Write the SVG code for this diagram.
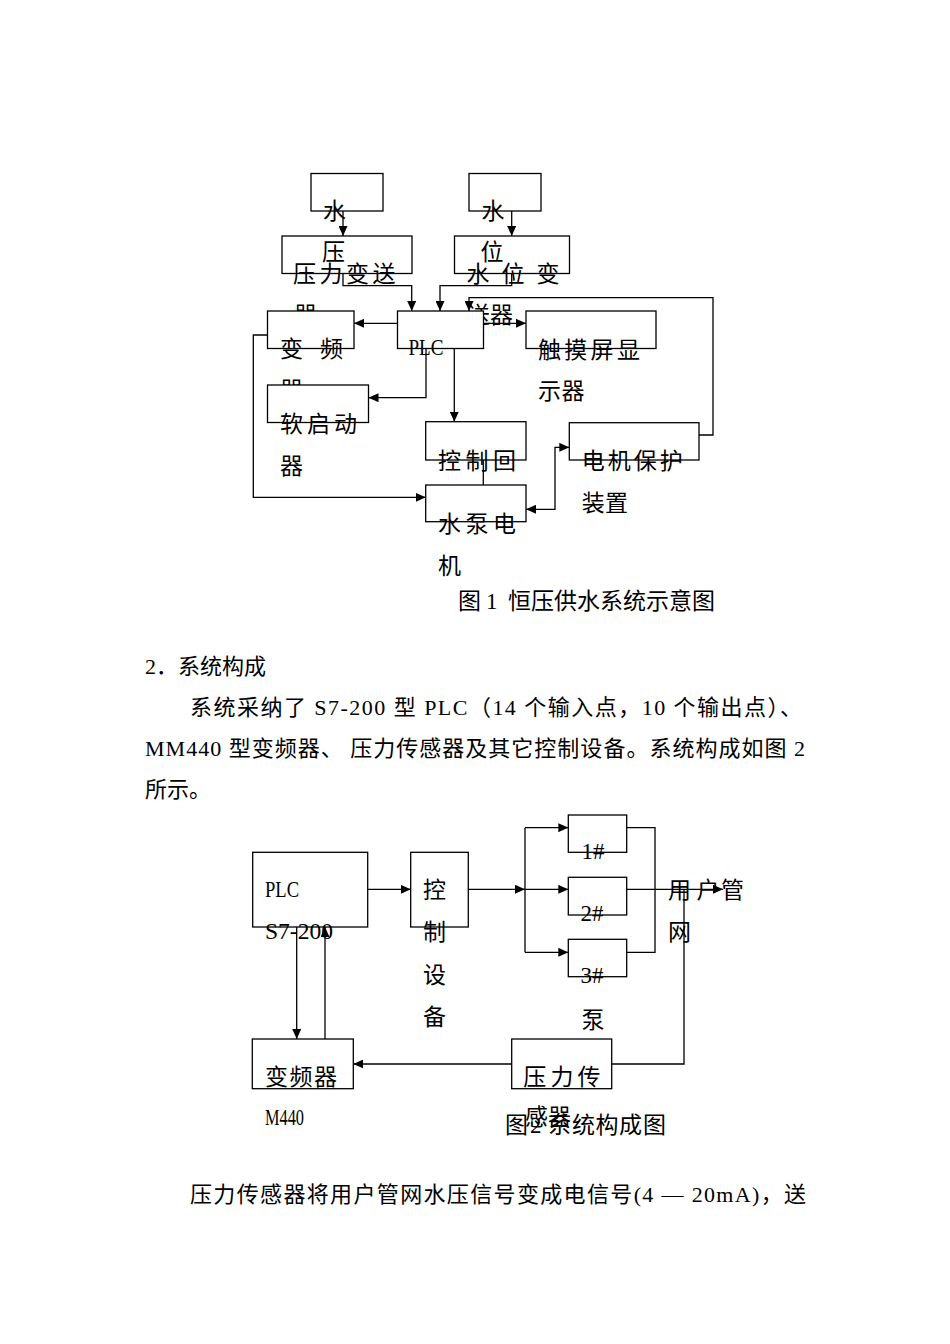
<svg xmlns="http://www.w3.org/2000/svg" width="950" height="1344" viewBox="0 0 950 1344">
<style>
.bx{fill:#fff;stroke:#000;stroke-width:1.3}
.cn{fill:none;stroke:#000;stroke-width:1.3}
.t{font-family:"Liberation Serif","Noto Sans CJK SC",serif;font-size:23px;fill:#000}
.s{font-family:"Liberation Serif","Noto Sans CJK SC",serif;font-size:22px;fill:#000}
</style>
<defs>
<marker id="ah" markerUnits="userSpaceOnUse" markerWidth="10" markerHeight="9" refX="10" refY="4.5" orient="auto-start-reverse">
<path d="M0,0 L10,4.5 L0,9 z" fill="#000"/>
</marker>
</defs>
<rect width="950" height="1344" fill="#fff"/>

<!-- Figure 1 nodes -->
<g id="water-left">
<rect class="bx" x="311" y="173.5" width="72" height="37.5"/>
<text class="t" x="323" y="218.5">水</text>
</g>
<g id="water-right">
<rect class="bx" x="469" y="173.5" width="72" height="37.5"/>
<text class="t" x="481.5" y="218.5">水</text>
</g>
<g id="pressure-transmitter">
<rect class="bx" x="282" y="236" width="130" height="37.5"/>
<text class="t" x="322" y="260">压</text>
<text class="t" x="293 319.5 346 372.5" y="282">压力变送</text>
<text class="t" x="294" y="323">器</text>
</g>
<g id="level-transmitter">
<rect class="bx" x="454.5" y="236" width="115" height="37.5"/>
<text class="t" x="480.5" y="260">位</text>
<text class="t" x="466.5 501.5 536.5" y="282">水位变</text>
<text class="t" x="467 490" y="323">送器</text>
</g>
<g id="plc1">
<rect class="bx" x="397.5" y="311" width="86" height="37.5"/>
<text class="t" x="408.5" y="355" textLength="35" lengthAdjust="spacingAndGlyphs">PLC</text>
</g>
<g id="inverter1">
<rect class="bx" x="267.5" y="311" width="86.5" height="37.5"/>
<text class="t" x="280 320" y="357">变频</text>
<text class="t" x="280" y="398">器</text>
</g>
<g id="soft-starter">
<rect class="bx" x="267.5" y="385" width="101" height="37.5"/>
<text class="t" x="280 307 334" y="431.5">软启动</text>
<text class="t" x="280" y="474">器</text>
</g>
<g id="touch-screen">
<rect class="bx" x="526" y="311" width="130" height="37.5"/>
<text class="t" x="538 564.3 590.6 617" y="357.5">触摸屏显</text>
<text class="t" x="538 561.5" y="399">示器</text>
</g>
<g id="control-circuit">
<rect class="bx" x="425.7" y="421.7" width="100.3" height="38.3"/>
<text class="t" x="438 465.5 493" y="469">控制回</text>
</g>
<g id="pump-motor">
<rect class="bx" x="425.7" y="485" width="100.3" height="36.7"/>
<text class="t" x="438 465.5 493" y="532">水泵电</text>
<text class="t" x="438" y="574">机</text>
</g>
<g id="motor-protection">
<rect class="bx" x="569.3" y="422.7" width="129.7" height="37.3"/>
<text class="t" x="581.7 607.7 633.7 659.7" y="469">电机保护</text>
<text class="t" x="581.7 605" y="511">装置</text>
</g>
<g id="caption1">
<text class="t" x="458" y="609">图</text>
<text class="t" x="486" y="609">1</text>
<text class="t" x="508" y="609">恒压供水系统示意图</text>
</g>

<!-- Body text -->
<g id="body">
<text class="s" x="145" y="674">2．系统构成</text>
<text class="s" x="190" y="715" textLength="612" lengthAdjust="spacing">系统采纳了 S7-200 型 PLC（14 个输入点，10 个输出点）、</text>
<text class="s" x="145" y="756" textLength="660" lengthAdjust="spacing">MM440 型变频器、 压力传感器及其它控制设备。系统构成如图 2</text>
<text class="s" x="145" y="797">所示。</text>
<text class="s" x="190" y="1202" textLength="616" lengthAdjust="spacing">压力传感器将用户管网水压信号变成电信号(4 — 20mA)，送</text>
</g>

<!-- Figure 2 nodes -->
<g id="plc2">
<rect class="bx" x="252.7" y="852.3" width="115" height="74.7"/>
<text class="t" x="265" y="897" textLength="34" lengthAdjust="spacingAndGlyphs">PLC</text>
<text class="t" x="265" y="939" textLength="68" lengthAdjust="spacingAndGlyphs">S7-200</text>
</g>
<g id="control-device">
<rect class="bx" x="410.7" y="852.3" width="57.6" height="74.7"/>
<text class="t" x="423" y="898">控</text>
<text class="t" x="423" y="940">制</text>
<text class="t" x="423" y="983">设</text>
<text class="t" x="423" y="1025">备</text>
</g>
<g id="pump1">
<rect class="bx" x="568.3" y="815" width="58.4" height="37.3"/>
<text class="t" x="581.5" y="859">1#</text>
</g>
<g id="pump2">
<rect class="bx" x="568.3" y="877.3" width="58.4" height="37.7"/>
<text class="t" x="580.5" y="921">2#</text>
</g>
<g id="pump3">
<rect class="bx" x="568.3" y="939.3" width="58.4" height="37.4"/>
<text class="t" x="580.5" y="983">3#</text>
<text class="t" x="581.5" y="1028">泵</text>
</g>
<g id="user-network">
<text class="t" x="668 696.5 721" y="898">用户管</text>
<text class="t" x="668" y="940">网</text>
</g>
<g id="inverter2">
<rect class="bx" x="252.3" y="1039" width="101" height="49.7"/>
<text class="t" x="265 289.5 314" y="1085">变频器</text>
<text class="t" x="265" y="1125" textLength="39" lengthAdjust="spacingAndGlyphs">M440</text>
</g>
<g id="caption2">
<text class="t" x="505" y="1133">图</text>
<text class="t" x="530" y="1133">2</text>
<text class="t" x="548 572 595.5 619 643" y="1133">系统构成图</text>
</g>
<g id="pressure-sensor">
<rect class="bx" x="511.7" y="1039" width="100" height="49.7"/>
<text class="t" x="523.3 550.5 577.5" y="1085">压力传</text>
<text class="t" x="525 548" y="1125">感器</text>
</g>

<!-- Connectors -->
<g id="connectors">
<path class="cn" d="M343,211 V236" marker-end="url(#ah)"/>
<path class="cn" d="M511.7,211 V236" marker-end="url(#ah)"/>
<path class="cn" d="M343,273.5 V285.7 H411.7 V311" marker-end="url(#ah)"/>
<path class="cn" d="M511.7,273.5 V285.7 H440 V311" marker-end="url(#ah)"/>
<path class="cn" d="M699,435 H713 V297.7 H469 V311" marker-end="url(#ah)"/>
<path class="cn" d="M397.5,323.3 H354" marker-end="url(#ah)"/>
<path class="cn" d="M483.5,323.3 H526" marker-end="url(#ah)"/>
<path class="cn" d="M426,348.5 V397.7 H368.5" marker-end="url(#ah)"/>
<path class="cn" d="M454.3,348.5 V421.7" marker-end="url(#ah)"/>
<path class="cn" d="M483.3,460 V485"/>
<path class="cn" d="M267.5,335 H253.3 V497.3 H425.7" marker-end="url(#ah)"/>
<path class="cn" d="M526,509.3 H555 V447.3 H569.3" marker-start="url(#ah)" marker-end="url(#ah)"/>

<path class="cn" d="M367.7,889.3 H410.7" marker-end="url(#ah)"/>
<path class="cn" d="M468.3,889.3 H525" marker-end="url(#ah)"/>
<path class="cn" d="M525,827.7 V952.3"/>
<path class="cn" d="M525,827.7 H568.3" marker-end="url(#ah)"/>
<path class="cn" d="M525,889.3 H568.3" marker-end="url(#ah)"/>
<path class="cn" d="M525,952.3 H568.3" marker-end="url(#ah)"/>
<path class="cn" d="M626.7,827.7 H655 V952.3 H626.7"/>
<path class="cn" d="M626.7,889.3 H723" marker-end="url(#ah)"/>
<path class="cn" d="M684,889.3 V1064 H611.7"/>
<path class="cn" d="M511.7,1064 H353.3" marker-end="url(#ah)"/>
<path class="cn" d="M296.7,927 V1039" marker-end="url(#ah)"/>
<path class="cn" d="M325,1039 V927" marker-end="url(#ah)"/>
</g>
</svg>
